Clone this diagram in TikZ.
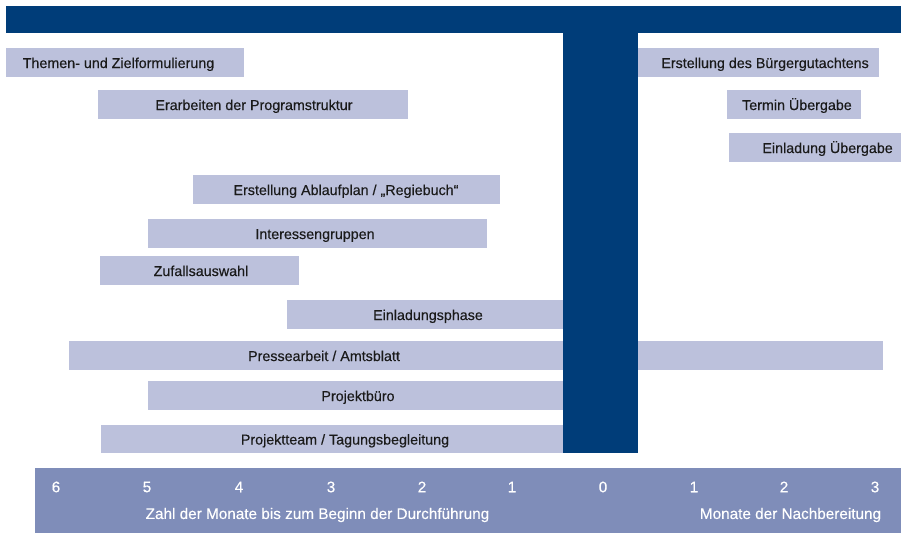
\documentclass[tikz,border=0pt]{standalone}
\usepackage{fontspec}
\setmainfont{Liberation Sans}
\newfontfamily\medfont{Liberation Sans}[FakeBold=0.35]
\definecolor{darkb}{HTML}{003D79}
\definecolor{barc}{HTML}{BCC1DC}
\definecolor{bandc}{HTML}{7F8DB9}
\definecolor{txtc}{HTML}{1A1A1A}
\begin{document}
\begin{tikzpicture}[x=1pt,y=-1pt,
  bar/.style={fill=barc,draw=none,inner sep=0pt,anchor=north west,minimum height=29pt},
  lbl/.style={text=txtc,font=\medfont\fontsize{14.3}{16}\selectfont,inner sep=0pt,anchor=base},
  num/.style={text=white,font=\medfont\fontsize{15.3}{17}\selectfont,inner sep=0pt},
  blk/.style={fill=darkb,draw=none,inner sep=0pt,anchor=north west}]
\useasboundingbox (0,0) rectangle (901,533);
% top bar
\node[blk,minimum width=895pt,minimum height=27pt] (top) at (6,6) {};
% bars
\node[bar,minimum width=238pt] (b1) at (6,48) {};
\node[lbl] (t1) at (118.5,68) {Themen- und Zielformulierung};
\node[bar,minimum width=310pt] (b2) at (98,90) {};
\node[lbl] (t2) at (254,110) {Erarbeiten der Programstruktur};
\node[bar,minimum width=241pt] (b3) at (638,48) {};
\node[lbl,anchor=base east] (t3) at (869,68) {Erstellung des Bürgergutachtens};
\node[bar,minimum width=134pt] (b4) at (727,90) {};
\node[lbl,anchor=base east] (t4) at (852,110) {Termin Übergabe};
\node[bar,minimum width=172pt] (b5) at (729,133) {};
\node[lbl,anchor=base east] (t5) at (893,153) {Einladung Übergabe};
\node[bar,minimum width=307pt] (b6) at (193,175) {};
\node[lbl] (t6) at (346,195) {Erstellung Ablaufplan / „Regiebuch“};
\node[bar,minimum width=339pt] (b7) at (148,219) {};
\node[lbl] (t7) at (315,239) {Interessengruppen};
\node[bar,minimum width=199pt] (b8) at (100,256) {};
\node[lbl] (t8) at (201,276) {Zufallsauswahl};
\node[bar,minimum width=278pt] (b9) at (287,300) {};
\node[lbl] (t9) at (428,320) {Einladungsphase};
\node[bar,minimum width=814pt] (b10) at (69,341) {};
\node[lbl] (t10) at (324,361) {Pressearbeit / Amtsblatt};
\node[bar,minimum width=418pt] (b11) at (148,381) {};
\node[lbl] (t11) at (358,401) {Projektbüro};
\node[bar,minimum width=465pt,minimum height=28pt] (b12) at (101,425) {};
\node[lbl] (t12) at (345,444.5) {Projektteam / Tagungsbegleitung};
% stem
\node[blk,minimum width=75pt,minimum height=421pt] (stem) at (563,32) {};
% bottom band
\node[fill=bandc,draw=none,inner sep=0pt,anchor=north west,minimum width=866pt,minimum height=65pt] (band) at (35,468) {};
\foreach \x/\n [count=\i] in {56/6,147/5,239/4,331/3,422/2,512/1,603/0,694/1,784/2,875/3}
  \node[num] (n\i) at (\x,487) {\n};
\node[num] (l1) at (317.5,515) {Zahl der Monate bis zum Beginn der Durchführung};
\node[num] (l2) at (790.5,515) {Monate der Nachbereitung};
\end{tikzpicture}
\end{document}
